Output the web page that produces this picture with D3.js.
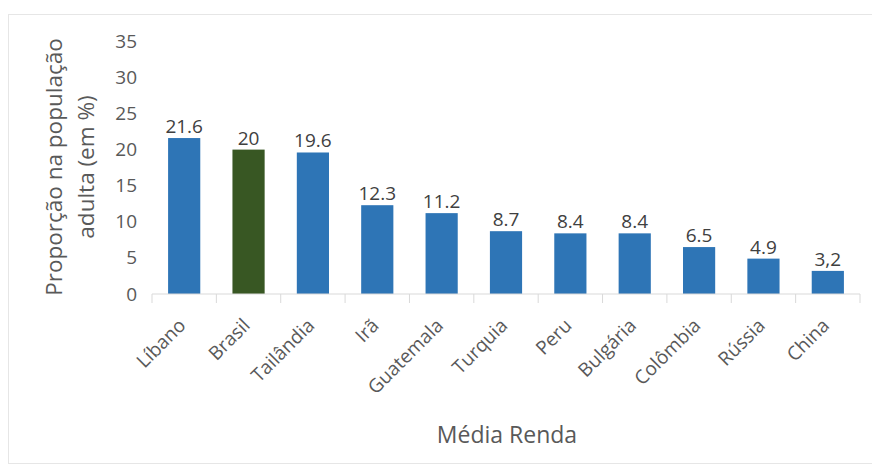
<!DOCTYPE html>
<html>
<head>
<meta charset="utf-8">
<script src="https://cdn.jsdelivr.net/npm/d3@7"></script>
<style>
  body { margin: 0; background: #ffffff; }
  svg { font-family: "Open Sans", sans-serif; }
</style>
</head>
<body>
<div id="chart"></div>
<script>
// Your data
var countries = ["Líbano", "Brasil", "Tailândia", "Irã", "Guatemala", "Turquia", "Peru", "Bulgária", "Colômbia", "Rússia", "China"];
var values = [21.6, 20, 19.6, 12.3, 11.2, 8.7, 8.4, 8.4, 6.5, 4.9, 3.2];
var valueLabels = ["21.6", "20", "19.6", "12.3", "11.2", "8.7", "8.4", "8.4", "6.5", "4.9", "3,2"];
var yTicks = [0, 5, 10, 15, 20, 25, 30, 35];
var highlight = "Brasil";

var width = 872;
var height = 467;

var svg = d3.select("#chart").append("svg").attr("width", width).attr("height", height);

// frame of the chart area
svg.append("rect")
    .attr("x", 8.5).attr("y", 14.5)
    .attr("width", 880).attr("height", 449)
    .attr("fill", "#ffffff")
    .attr("stroke", "#e6e6e6");

var x = d3.scaleBand().domain(countries).range([152, 860]).paddingInner(0.5).paddingOuter(0.25);
var y = d3.scaleLinear().domain([0, 35]).range([294, 41.3]);

var data = countries.map(function(c, i) { return {country: c, value: values[i], label: valueLabels[i]}; });

// bars
svg.selectAll(".bar")
    .data(data)
  .enter().append("rect")
    .attr("class", "bar")
    .attr("x", function(d) { return x(d.country); })
    .attr("y", function(d) { return y(d.value); })
    .attr("width", x.bandwidth())
    .attr("height", function(d) { return y(0) - y(d.value); })
    .attr("fill", function(d) { return d.country == highlight ? "#385723" : "#2E75B6"; });

// value labels
svg.selectAll(".val")
    .data(data)
  .enter().append("text")
    .attr("class", "val")
    .attr("x", function(d) { return x(d.country) + x.bandwidth() / 2; })
    .attr("y", function(d) { return y(d.value) - 5; })
    .attr("text-anchor", "middle")
    .style("font-size", "19px")
    .style("fill", "#404040")
    .text(function(d) { return d.label; });

// y axis labels (no line)
var yAxis = d3.axisLeft(y).tickValues(yTicks).tickSize(0).tickPadding(0);
var gy = svg.append("g").attr("transform", "translate(137,0)").call(yAxis);
gy.select(".domain").remove();
gy.selectAll("text").style("font-size", "19px").style("fill", "#595959").style("font-family", "Open Sans, sans-serif");

// x axis with boundary ticks
var gx = svg.append("g").attr("transform", "translate(0," + y(0) + ")");
gx.append("line")
    .attr("x1", 152).attr("x2", 860)
    .attr("stroke", "#d9d9d9");
var bounds = countries.map(function(c) { return x(c) - x.step() * x.paddingInner() / 2; });
bounds.push(860);
gx.selectAll(".tk")
    .data(bounds)
  .enter().append("line")
    .attr("x1", function(d) { return d; }).attr("x2", function(d) { return d; })
    .attr("y1", 0).attr("y2", 9)
    .attr("stroke", "#d9d9d9");

gx.selectAll(".cat")
    .data(countries)
  .enter().append("text")
    .attr("transform", function(d) { return "translate(" + (x(d) + x.bandwidth() / 2 - 2) + ",28) rotate(-45)"; })
    .attr("text-anchor", "end")
    .attr("dy", "0.35em")
    .style("font-size", "19px")
    .style("fill", "#595959")
    .text(function(d) { return d; });

// axis titles
svg.append("text")
    .attr("transform", "translate(62,167) rotate(-90)")
    .attr("text-anchor", "middle")
    .style("font-size", "22.5px")
    .style("fill", "#595959")
    .text("Proporção na população");
svg.append("text")
    .attr("transform", "translate(94,167) rotate(-90)")
    .attr("text-anchor", "middle")
    .style("font-size", "22.5px")
    .style("fill", "#595959")
    .text("adulta (em %)");

svg.append("text")
    .attr("x", 507).attr("y", 443)
    .attr("text-anchor", "middle")
    .style("font-size", "23px")
    .style("fill", "#595959")
    .text("Média Renda");
</script>
</body>
</html>
